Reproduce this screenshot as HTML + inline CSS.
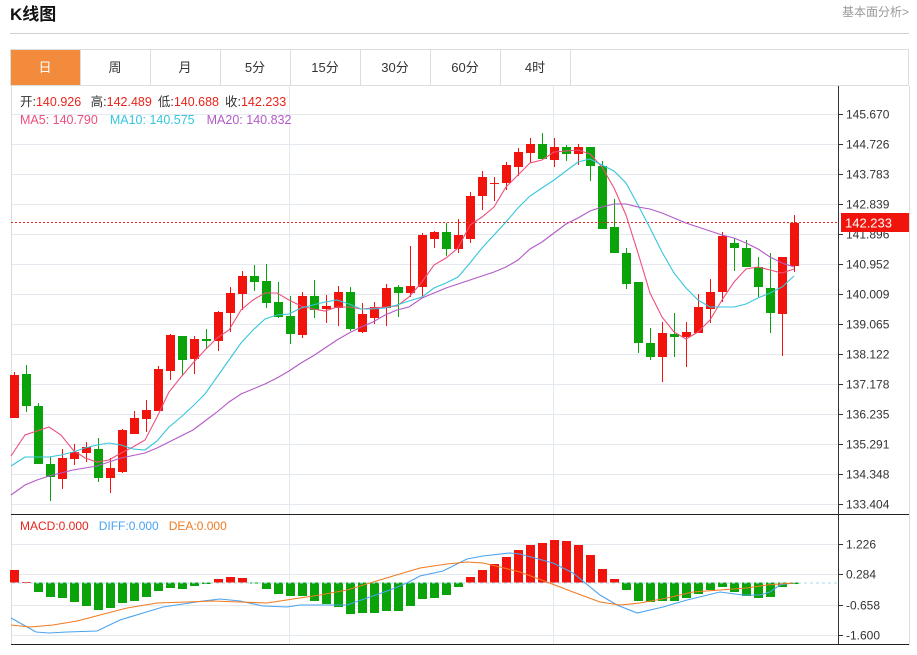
<!DOCTYPE html>
<html><head><meta charset="utf-8"><style>
body{margin:0;background:#fff;width:917px;height:650px;overflow:hidden;font-family:"Liberation Sans","Noto Sans CJK SC",sans-serif;}
</style></head><body>
<svg id="s" width="917" height="650" xmlns="http://www.w3.org/2000/svg" font-family="Liberation Sans, Noto Sans CJK SC, sans-serif">
<text x="10" y="20" font-size="17" font-weight="bold" fill="#111">K线图</text>
<text x="909" y="16" font-size="12" fill="#999" text-anchor="end">基本面分析&gt;</text>
<line x1="10" y1="33.5" x2="909" y2="33.5" stroke="#d0d0d0"/>
<rect x="10.5" y="49.5" width="898" height="36" fill="#fff" stroke="#ddd"/>
<rect x="11" y="50" width="69" height="35" fill="#f28c3c"/>
<g stroke="#ddd"><line x1="80.5" y1="50" x2="80.5" y2="85"/><line x1="150.5" y1="50" x2="150.5" y2="85"/><line x1="220.5" y1="50" x2="220.5" y2="85"/><line x1="290.5" y1="50" x2="290.5" y2="85"/><line x1="360.5" y1="50" x2="360.5" y2="85"/><line x1="430.5" y1="50" x2="430.5" y2="85"/><line x1="500.5" y1="50" x2="500.5" y2="85"/><line x1="570.5" y1="50" x2="570.5" y2="85"/></g>
<g font-size="13" text-anchor="middle" fill="#333"><text x="45" y="72" fill="#fff">日</text><text x="115" y="72">周</text><text x="185" y="72">月</text><text x="255" y="72">5分</text><text x="325" y="72">15分</text><text x="395" y="72">30分</text><text x="465" y="72">60分</text><text x="535" y="72">4时</text></g>
<g id="grid" stroke="#e3e9ef" stroke-width="1"></g>
<line x1="11.5" y1="86" x2="11.5" y2="645" stroke="#ddd"/>
<line x1="909.5" y1="86" x2="909.5" y2="645" stroke="#ddd"/>
<line x1="838.5" y1="86" x2="838.5" y2="645" stroke="#333"/>
<line x1="11" y1="514.5" x2="909" y2="514.5" stroke="#222"/>
<line x1="11" y1="644.5" x2="909" y2="644.5" stroke="#222"/>
<g id="c"></g>
<line x1="11" y1="222.5" x2="838" y2="222.5" stroke="#e8241a" stroke-dasharray="2,2"/>
<g id="lines" fill="none" stroke-width="1.1"></g>
<g id="ax" font-size="12" fill="#333"></g>
<rect x="841" y="213" width="68" height="19" fill="#f0140c"/>
<text x="845" y="227.5" font-size="13" fill="#fff">142.233</text>
<g font-size="12.5"><text x="20" y="106" fill="#333">开:<tspan fill="#e8241a">140.926</tspan>  <tspan dx="6">高:</tspan><tspan fill="#e8241a">142.489</tspan><tspan dx="6">低:</tspan><tspan fill="#e8241a">140.688</tspan><tspan dx="6">收:</tspan><tspan fill="#e8241a">142.233</tspan></text>
<text x="20" y="124" fill="#ee4f7d">MA5: 140.790<tspan dx="12" fill="#35c6dc">MA10: 140.575</tspan><tspan dx="12" fill="#b45ac8">MA20: 140.832</tspan></text>
<text x="20" y="530" fill="#e8241a" font-size="12">MACD:0.000<tspan dx="10" fill="#4aa3f0">DIFF:0.000</tspan><tspan dx="10" fill="#f07a20">DEA:0.000</tspan></text></g>
</svg>
<script>
var NS="http://www.w3.org/2000/svg";
function el(p,t,a){var e=document.createElementNS(NS,t);for(var k in a)e.setAttribute(k,a[k]);document.getElementById(p).appendChild(e);return e;}
[114,144,174,204,234,264,294,324,354,384,414,444,474,504,544,574,605,635].forEach(function(y){el("grid","line",{x1:12,x2:838,y1:y+.5,y2:y+.5});});
[289,553].forEach(function(x){el("grid","line",{x1:x+.5,x2:x+.5,y1:86,y2:644});});
var pl=[["145.670",114],["144.726",144],["143.783",174],["142.839",204],["141.896",234],["140.952",264],["140.009",294],["139.065",324],["138.122",354],["137.178",384],["136.235",414],["135.291",444],["134.348",474],["133.404",504],["1.226",544],["0.284",574],["-0.658",605],["-1.600",635]];
pl.forEach(function(p){el("ax","line",{x1:838,x2:843,y1:p[1]+.5,y2:p[1]+.5,stroke:"#333"});var t=el("ax","text",{x:846,y:p[1]+4.5});t.textContent=p[0];});
// bodyTop, bodyBottom, wickTop, wickBottom, r/g
var C=[[375,418,372,418,1],[374,406,365,412,0],[406,464,403,464,0],[464,477,457,501,0],[458,479,449,489,1],[452,459,444,465,1],[447,453,442,462,1],[449,478,438,482,0],[468,478,458,493,1],[430,472,429,473,1],[418,434,411,434,1],[410,419,400,432,1],[369,411,366,411,1],[335,371,334,380,1],[336,360,336,376,0],[339,359,336,374,1],[339,341,329,349,0],[312,341,311,351,1],[293,313,287,332,1],[276,294,271,310,1],[276,282,265,291,0],[281,303,264,308,0],[302,317,282,318,0],[316,334,296,344,0],[296,335,292,338,1],[296,310,280,318,0],[306,309,295,323,1],[292,308,286,326,1],[292,329,287,331,0],[314,332,303,333,1],[307,318,302,324,1],[288,308,284,326,1],[287,293,285,317,0],[286,293,246,297,1],[235,287,233,298,1],[232,239,231,248,1],[232,249,223,256,0],[235,249,219,253,1],[196,239,192,243,1],[177,196,171,210,1],[183,184,177,201,1],[165,183,162,190,1],[152,167,148,176,1],[144,153,138,163,1],[144,159,133,159,0],[147,160,138,167,1],[147,154,145,161,0],[147,154,144,165,1],[147,166,147,181,0],[166,229,161,229,0],[227,253,199,253,0],[253,284,248,289,0],[282,343,282,353,0],[343,357,328,360,0],[333,357,322,382,1],[334,337,313,357,0],[332,337,322,367,1],[307,333,294,333,1],[292,309,279,323,1],[236,292,232,302,1],[243,248,238,271,0],[248,267,240,267,0],[267,287,257,297,0],[288,313,253,333,0],[257,314,257,356,1],[223,266,215,272,1]];
C.forEach(function(c,i){var x=14.5+12*i,col=c[4]?"#f0140c":"#0aa30a";
el("c","line",{x1:x,x2:x,y1:c[2],y2:c[3],stroke:col,"stroke-width":1});
el("c","rect",{x:x-4.5,y:c[0],width:9,height:Math.max(1,c[1]-c[0]),fill:col});});
var M=[570,582,592,597,598,602,606,610,608,603,601,597,591,588,589,586,584,579,577,578,583.5,589,594,596,596,601,604,607,614,613,613,611,611,606,599,598,595,587,577,570,564,557,550,545,543,540,541,545,555,569,579,590,601,602,601,601,598,594,590,587,592,596,598,597,587,584];
var Z=582.5;
M.forEach(function(v,i){var x=14.5+12*i,up=v<Z;el("c","rect",{x:x-4.5,y:Math.min(v,Z),width:9,height:Math.max(.8,Math.abs(v-Z)),fill:up?"#f0140c":"#0aa30a"});});
el("c","line",{x1:12,x2:838,y1:Z+.5,y2:Z+.5,stroke:"#a8d8f0","stroke-dasharray":"3,3"});
function P(a,col,w){el("lines","polyline",{points:a.map(function(p){return p.join(",")}).join(" "),stroke:col,"stroke-width":w||1.1});}
P([[11,456],[25,435],[49,427],[61,435],[73,450],[85,458],[97,462],[109,460],[121,453],[133,447],[145,440],[157,417],[169,392],[181,377],[193,363],[205,350],[217,338],[229,330],[241,310],[253,300],[265,293],[277,293],[289,300],[301,306],[313,309],[325,311],[337,307],[349,307],[361,309],[373,308],[385,307],[397,306],[409,297],[422,282],[434,265],[446,258],[458,248],[470,225],[482,217],[494,207],[506,187],[518,175],[530,163],[542,160],[554,152],[566,151],[578,150],[590,154],[602,167],[614,188],[626,215],[638,253],[650,293],[662,317],[674,332],[686,339],[698,332],[710,320],[722,300],[734,282],[746,269],[758,267],[770,270],[782,273],[794,269]],"#ee4f7d");
P([[11,466],[25,457],[49,457],[61,455],[73,452],[85,448],[97,445],[109,443],[121,445],[133,449],[145,450],[157,441],[169,427],[181,417],[193,406],[205,394],[217,377],[229,360],[241,343],[253,330],[265,319],[277,315],[289,314],[301,308],[313,305],[325,302],[337,300],[349,304],[361,309],[373,309],[385,308],[397,305],[409,301],[422,297],[434,288],[446,283],[458,277],[470,263],[482,248],[494,235],[506,222],[518,208],[530,196],[542,188],[554,180],[566,171],[578,162],[590,159],[602,165],[614,171],[626,183],[638,205],[650,228],[662,252],[674,273],[686,288],[698,300],[710,307],[722,307],[734,307],[746,304],[758,298],[770,293],[782,287],[794,276]],"#35c6dc");
P([[11,495],[25,485],[37,480],[49,476],[73,470],[97,466],[121,458],[145,453],[157,448],[169,442],[193,430],[205,421],[217,412],[229,402],[241,394],[265,384],[277,378],[289,371],[301,363],[313,356],[325,348],[337,340],[349,333],[361,327],[373,322],[385,315],[397,310],[409,307],[422,298],[446,288],[470,280],[494,272],[506,267],[518,260],[530,249],[542,242],[554,233],[566,224],[578,218],[590,211],[602,207],[614,204],[626,204],[638,207],[650,209],[662,213],[674,218],[686,223],[698,227],[710,231],[722,235],[734,238],[746,243],[758,249],[770,257],[782,263],[794,267]],"#b45ac8");
P([[11,618],[36,632],[49,633],[67,632],[97,631],[120,620],[143,613],[163,607],[183,604],[203,601],[220,599],[240,601],[263,606],[287,607],[300,605],[320,605],[347,605],[367,598],[390,590],[407,583],[420,576],[443,571],[467,559],[483,556],[510,553],[520,554],[553,563],[573,573],[600,595],[617,605],[637,613],[663,607],[687,600],[720,592],[743,595],[760,595],[770,592],[780,585],[793,583]],"#4aa3f0");
P([[11,625],[30,627],[53,625],[77,621],[100,615],[127,608],[157,603],[187,602],[213,601],[240,602],[267,603],[293,599],[320,595],[347,590],[370,583],[393,576],[420,568],[447,564],[467,562],[483,563],[500,567],[520,572],[547,582],[573,592],[600,602],[620,605],[640,603],[667,598],[693,592],[720,590],[747,588],[767,585],[793,583]],"#f07a20");
</script>
</body></html>
